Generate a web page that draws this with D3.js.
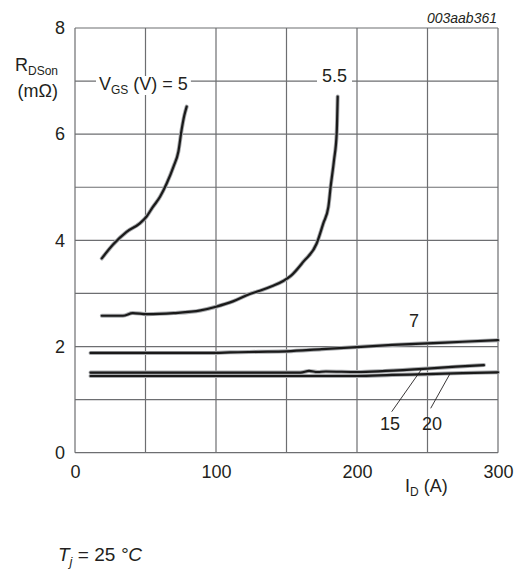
<!DOCTYPE html>
<html>
<head>
<meta charset="utf-8">
<script src="https://cdn.jsdelivr.net/npm/d3@7"></script>
<style>
  html, body { margin: 0; padding: 0; background: #fff; }
  svg text { font-family: "Liberation Sans", Arial, Helvetica, sans-serif; fill: #231f20; }
</style>
</head>
<body>
<svg id="chart" width="518" height="574"></svg>
<script>
// Drain current I_D (A) and on-state resistance R_DSon (mΩ), one pair of arrays per gate voltage
const id5 = [19, 27, 36.6, 46, 50.8, 55, 60.3, 65, 70, 73.3, 75.6, 77.5, 79.2];
const r5 = [3.66, 3.92, 4.16, 4.32, 4.45, 4.62, 4.82, 5.07, 5.40, 5.67, 6.08, 6.35, 6.52];

const id55 = [19, 34, 41, 51, 70, 89, 100, 112, 124, 131, 140, 148, 153, 162, 171.4, 176.1, 179.7, 181.3, 183.7, 185.6, 186.3];
const r55 = [2.58, 2.58, 2.63, 2.61, 2.63, 2.68, 2.75, 2.85, 2.99, 3.05, 3.14, 3.24, 3.33, 3.60, 3.94, 4.32, 4.63, 5.01, 5.51, 6.02, 6.71];

const id7 = [11, 50, 100, 110, 130, 150, 175, 200, 225, 250, 275, 300];
const r7 = [1.88, 1.88, 1.88, 1.89, 1.90, 1.91, 1.95, 1.99, 2.03, 2.06, 2.09, 2.12];

const id15 = [11, 100, 160, 166, 172, 178, 200, 220, 250, 270, 290];
const r15 = [1.51, 1.51, 1.51, 1.54, 1.52, 1.53, 1.52, 1.54, 1.585, 1.62, 1.65];

const id20 = [11, 100, 200, 225, 250, 275, 300];
const r20 = [1.445, 1.445, 1.445, 1.465, 1.48, 1.50, 1.515];

const xTicks = [0, 100, 200, 300];
const yTicks = [0, 2, 4, 6, 8];
const xGrid = [0, 50, 100, 150, 200, 250, 300];
const yGrid = [0, 1, 2, 3, 4, 5, 6, 7, 8];

const svg = d3.select("#chart");
const plotLeft = 75, plotRight = 498, plotTop = 28, plotBottom = 452.7;

const x = d3.scaleLinear().domain([0, 300]).range([plotLeft, plotRight]);
const y = d3.scaleLinear().domain([0, 8]).range([plotBottom, plotTop]);

const gridColor = "#6d6e71";

// grid
const grid = svg.append("g");
grid.selectAll("line.v").data(xGrid).join("line").attr("class", "v")
  .attr("x1", d => x(d)).attr("x2", d => x(d))
  .attr("y1", plotTop).attr("y2", plotBottom)
  .attr("stroke", gridColor).attr("stroke-width", 1.2);
grid.selectAll("line.h").data(yGrid).join("line").attr("class", "h")
  .attr("x1", plotLeft).attr("x2", plotRight)
  .attr("y1", d => y(d)).attr("y2", d => y(d))
  .attr("stroke", gridColor).attr("stroke-width", 1.2);

// axes tick labels
const xAxis = d3.axisBottom(x).tickValues(xTicks).tickSize(0).tickPadding(13);
const gx = svg.append("g").attr("transform", `translate(0,${plotBottom})`).call(xAxis);
gx.select(".domain").remove();
gx.selectAll("text").attr("font-size", 18).style("font-family", "'Liberation Sans', Arial, sans-serif").attr("fill", "#231f20");

const yAxis = d3.axisLeft(y).tickValues(yTicks).tickSize(0).tickPadding(10);
const gy = svg.append("g").attr("transform", `translate(${plotLeft},0)`).call(yAxis);
gy.select(".domain").remove();
gy.selectAll("text").attr("font-size", 18).style("font-family", "'Liberation Sans', Arial, sans-serif").attr("fill", "#231f20");

// curves
const series = [
  { id: id5, r: r5 },
  { id: id55, r: r55 },
  { id: id7, r: r7 },
  { id: id15, r: r15 },
  { id: id20, r: r20 }
];
const line = d3.line().x(d => x(d[0])).y(d => y(d[1])).curve(d3.curveMonotoneX);
const curves = svg.append("g").attr("fill", "none").attr("stroke-linecap", "round").attr("stroke-linejoin", "round");
series.forEach(s => {
  const pts = s.id.map((v, i) => [v, s.r[i]]);
  curves.append("path").attr("d", line(pts)).attr("stroke", "#a7a9ac").attr("stroke-width", 4);
});
series.forEach(s => {
  const pts = s.id.map((v, i) => [v, s.r[i]]);
  curves.append("path").attr("d", line(pts)).attr("stroke", "#1a1a1a").attr("stroke-width", 2.2);
});

// curve labels with white backing over the grid
function boxedLabel(tx, ty, build, pad) {
  const g = svg.append("g");
  const rect = g.append("rect").attr("fill", "#fff");
  const t = g.append("text").attr("x", tx).attr("y", ty).attr("font-size", 18);
  build(t);
  const b = t.node().getBBox();
  rect.attr("x", b.x - pad).attr("y", b.y + 2).attr("width", b.width + 2 * pad).attr("height", b.height - 4);
  return g;
}
boxedLabel(99, 90, t => {
  t.append("tspan").text("V");
  t.append("tspan").attr("font-size", 12).attr("dy", 4).text("GS");
  t.append("tspan").attr("dy", -4).text(" (V) = 5");
}, 3);
boxedLabel(322, 81.5, t => t.text("5.5"), 5);

svg.append("text").attr("x", 414).attr("y", 326.7).attr("text-anchor", "middle").attr("font-size", 18).text("7");
svg.append("text").attr("x", 390).attr("y", 430).attr("text-anchor", "middle").attr("font-size", 18).text("15");
svg.append("text").attr("x", 432).attr("y", 430).attr("text-anchor", "middle").attr("font-size", 18).text("20");

// leader lines for 15 and 20
svg.append("line").attr("x1", 391.7).attr("y1", 411.7).attr("x2", x(246)).attr("y2", y(1.58))
  .attr("stroke", "#231f20").attr("stroke-width", 0.9);
svg.append("line").attr("x1", 430.7).attr("y1", 408.3).attr("x2", x(266)).attr("y2", y(1.49))
  .attr("stroke", "#231f20").attr("stroke-width", 0.9);

// axis titles
const yt = svg.append("text").attr("x", 15).attr("y", 70.7).attr("font-size", 18);
yt.append("tspan").text("R");
yt.append("tspan").attr("font-size", 12).attr("dy", 4).text("DSon");
svg.append("text").attr("x", 37.7).attr("y", 96.7).attr("text-anchor", "middle").attr("font-size", 18).text("(mΩ)");

const xt = svg.append("text").attr("x", 405).attr("y", 491.7).attr("font-size", 18);
xt.append("tspan").text("I");
xt.append("tspan").attr("font-size", 12).attr("dy", 4).text("D");
xt.append("tspan").attr("dy", -4).text(" (A)");

// figure code
svg.append("text").attr("x", 497).attr("y", 23.3).attr("text-anchor", "end")
  .attr("font-size", 14).attr("font-style", "italic").text("003aab361");

// condition note
const note = svg.append("text").attr("x", 58).attr("y", 561).attr("font-size", 19);
note.append("tspan").attr("font-style", "italic").text("T");
note.append("tspan").attr("font-style", "italic").attr("font-size", 13).attr("dy", 5).text("j");
note.append("tspan").attr("dy", -5).text(" = 25 ");
note.append("tspan").attr("font-style", "italic").text("°C");
</script>
</body>
</html>
